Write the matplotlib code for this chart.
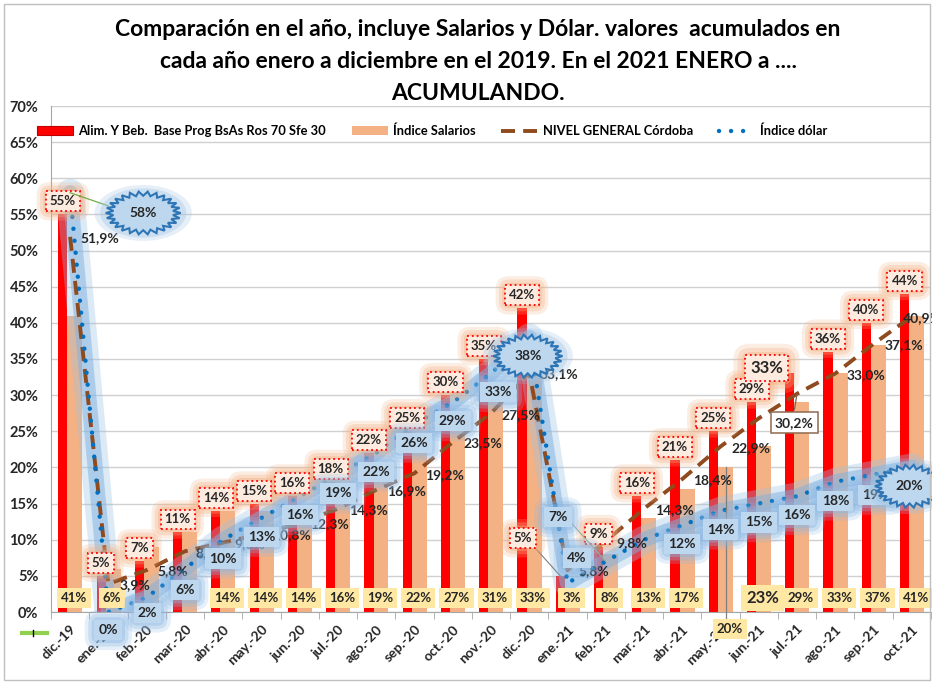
import numpy as np
import matplotlib
matplotlib.use('Agg')
import matplotlib.pyplot as plt
from matplotlib.patches import Polygon, Patch, Rectangle
from matplotlib.lines import Line2D
from matplotlib.transforms import ScaledTranslation

# datos
meses = ['dic.-19', 'ene.-20', 'feb.-20', 'mar.-20', 'abr.-20', 'may.-20', 'jun.-20',
         'jul.-20', 'ago.-20', 'sep.-20', 'oct.-20', 'nov.-20', 'dic.-20', 'ene.-21',
         'feb.-21', 'mar.-21', 'abr.-21', 'may.-21', 'jun.-21', 'jul.-21', 'ago.-21',
         'sep.-21', 'oct.-21']
alim = [55, 5, 7, 11, 14, 15, 16, 18, 22, 25, 30, 35, 42, 5, 9, 16, 21, 25, 29, 33, 36, 40, 44]
salarios = [41, 6, 9, 11, 14, 14, 14, 16, 19, 22, 27, 31, 33, 3, 8, 13, 17, 20, 23, 29, 33, 37, 41]
nivel = [51.9, 3.9, 5.8, 8.4, 9.6, 10.8, 12.3, 14.3, 16.9, 19.2, 23.5, 27.5, 33.1,
         5.8, 9.8, 14.3, 18.4, 22.9, 26.8, 30.2, 33.0, 37.1, 40.9]
dolar = [58, 0, 2, 6, 10, 13, 16, 19, 22, 26, 29, 33, 38, 4, 7, 10, 12, 14, 15, 16, 18, 19, 20]

ROJO = '#FF0000'
DURAZNO = '#F4B183'
MARRON = '#8F4A1E'
AZUL = '#0070C0'
TXT = '#262626'
FONT = 'Lato'

plt.rcParams['font.family'] = [FONT, 'DejaVu Sans']
plt.rcParams['font.weight'] = 'bold'

fig = plt.figure(figsize=(9.32, 6.84), dpi=100)
W, H = 932, 684
ax = fig.add_axes([51 / W, 1 - 612 / H, 880 / W, 506 / H])

x = np.arange(len(meses))

# barras
ax.bar(x + 0.125, salarios, width=0.39, color=DURAZNO, zorder=2)
ax.bar(x - 0.19, alim, width=0.24, color=ROJO, zorder=2.5)

# dolar: halo + puntos
ax.plot(x, dolar, color='#9DC3E6', lw=20, alpha=0.35, solid_capstyle='round',
        solid_joinstyle='round', zorder=3)
ax.plot(x, dolar, color='#7FB0E0', lw=11, alpha=0.5, solid_capstyle='round',
        solid_joinstyle='round', zorder=3)
ax.plot(x, nivel, color=MARRON, lw=2.8, dashes=(3.6, 2.1), zorder=4)
ax.plot(x, dolar, color=AZUL, lw=3.2, dashes=(0.01, 2.7), dash_capstyle='round', zorder=4.5)

ax.set_xlim(-0.5, len(meses) - 0.5)
ax.set_ylim(0, 70)
ax.set_yticks(np.arange(0, 71, 5))
ax.set_yticklabels([f'{v}%' for v in range(0, 71, 5)], fontsize=10.5, color=TXT)
ax.set_xticks(x)
ax.set_xticklabels(meses, rotation=45, ha='right', rotation_mode='anchor',
                   fontsize=10, color=TXT)
ax.set_xticks(np.arange(-0.5, len(meses), 1), minor=True)
ax.tick_params(axis='x', which='major', length=0, pad=8)
ax.tick_params(axis='x', which='minor', length=5, color='#A6A6A6')
ax.tick_params(axis='y', length=0, pad=9)
ax.grid(axis='y', color='#D0D0D0', lw=1, zorder=0.5)
ax.set_axisbelow(True)
for s in ['top', 'right']:
    ax.spines[s].set_visible(False)
ax.spines['left'].set_color('#A6A6A6')
ax.spines['bottom'].set_color('#A6A6A6')


def caja(xx, yy, s, fc, ec='none', ls='-', glow=None, fs=9.5, z=6):
    if glow:
        for pad, a in [(1.0, 0.22), (0.75, 0.3), (0.5, 0.4)]:
            ax.text(xx, yy, s, fontsize=fs, color='none', ha='center', va='center',
                    zorder=z, clip_on=False,
                    bbox=dict(boxstyle=f'round,pad={pad}', fc=glow, ec='none', alpha=a))
    ax.text(xx, yy, s, fontsize=fs, color=TXT, ha='center', va='center', zorder=z + 0.1,
            clip_on=False,
            bbox=dict(boxstyle='square,pad=0.3', fc=fc, ec=ec, ls=ls, lw=1.3))


def estrella(xx, yy, s, rx=27, ry=15.5, n=26, z=7):
    ang = np.linspace(0, 2 * np.pi, 2 * n, endpoint=False)
    r = np.where(np.arange(2 * n) % 2 == 0, 1.0, 0.8)
    tr = fig.dpi_scale_trans + ScaledTranslation(xx, yy, ax.transData)
    for k, a in [(1.3, 0.25), (1.15, 0.35)]:
        v = np.c_[rx * k * np.cos(ang), ry * k * np.sin(ang)] / 72
        ax.add_patch(Polygon(v, closed=True, fc='#9DC3E6', ec='none', alpha=a,
                             transform=tr, zorder=z, clip_on=False))
    v = np.c_[rx * r * np.cos(ang), ry * r * np.sin(ang)] / 72
    ax.add_patch(Polygon(v, closed=True, fc='#BDD7EE', ec='#2E75B6', lw=1.5,
                         transform=tr, zorder=z + 0.05, clip_on=False))
    ax.text(xx, yy, s, fontsize=10, color=TXT, ha='center', va='center', zorder=z + 0.1)


# etiquetas de alimentos (rojo)
esp_alim = {13: (11.83, 10.2), 19: (18.2, 33.7)}
for i, v in enumerate(alim):
    px, py = esp_alim.get(i, (i - 0.19, v + 1.8))
    caja(px, py, f'{v}%', '#FDEBDF', ec='#FF0000', ls=':', glow='#F4B183',
         fs=12 if i == 19 else 9.5)
ax.plot([11.83 + 0.3, 13 - 0.19], [9.0, alim[13]], color='#7F7F7F', lw=0.8, zorder=5.5)

# etiquetas de salarios (amarillo)
esp_sal = {17: (17.24, -2.3)}
for i, v in enumerate(salarios):
    if i in (2, 3):
        continue
    px, py = esp_sal.get(i, (i + 0.1, 2.0))
    caja(px, py, f'{v}%', '#FFE8A3', fs=12 if i == 18 else 9.5, z=5)
ax.plot([17.13, 17.13], [salarios[17], -1.3], color='#7F7F7F', lw=0.9, zorder=5,
        clip_on=False)

# etiquetas nivel general
for i, v in enumerate(nivel):
    txt = f'{v:.1f}%'.replace('.', ',')
    if i == 18:
        continue
    if i == 19:
        ax.plot([18.93, 19], [28.0, v], color='#7F6050', lw=0.9, zorder=5)
        ax.text(18.93, 26.2, txt, fontsize=10, color=TXT, ha='center', va='center',
                zorder=6, bbox=dict(boxstyle='square,pad=0.3', fc='white', ec='#8F6A50', lw=1.1))
        continue
    px = 21.76 if i == 22 else i + 0.28
    py = 40.6 if i == 22 else v - 0.2
    ax.text(px, py, txt, fontsize=10, color=TXT, ha='left', va='center', zorder=5.8,
            clip_on=False)

# etiquetas dolar (azul)
esp_dol = {1: (1.0, -2.5), 2: (2.02, -0.1), 3: (3.0, 3.0), 11: (11.18, 30.4),
           13: (13.25, 7.5), 14: (12.75, 13.1), 21: (21.07, 16.2)}
for i, v in enumerate(dolar):
    if i in (0, 12, 22, 15):
        continue
    px, py = esp_dol.get(i, (i, v - 2.6))
    caja(px, py, f'{v}%', '#BDD7EE', glow='#8DB8E4', fs=10, z=6.5)
ax.plot([13.05, 14], [12.6, dolar[14]], color='#8FAF8F', lw=0.8, zorder=6.4)

ax.plot([0, 0.99], [dolar[0], 56.2], color='#70AD47', lw=0.9, zorder=6.9)
estrella(1.91, 55.2, f'{dolar[0]}%')
estrella(11.96, 35.4, f'{dolar[12]}%', rx=25, ry=15.5)
estrella(21.94, 17.4, f'{dolar[22]}%', rx=25, ry=15.5)

# leyenda
hs = [Patch(fc=ROJO, ec='#C00000', lw=0.8),
      Patch(fc=DURAZNO, ec='none'),
      Line2D([], [], color=MARRON, lw=2.8, dashes=(3.6, 2.1)),
      Line2D([], [], color=AZUL, lw=3.2, dashes=(0.01, 2.7), dash_capstyle='round')]
ls = ['Alim. Y Beb.  Base Prog BsAs Ros 70 Sfe 30', 'Índice Salarios',
      'NIVEL GENERAL Córdoba', 'Índice dólar']
fig.legend(hs, ls, loc='center', bbox_to_anchor=(432 / W, 1 - 131 / H), ncol=4,
           frameon=False, fontsize=9.3, handlelength=2.8, handleheight=0.7,
           columnspacing=2.0, handletextpad=0.4)

# titulo
titulo = ['Comparación en el año, incluye Salarios y Dólar. valores  acumulados en',
          'cada año enero a diciembre en el 2019. En el 2021 ENERO a ....',
          'ACUMULANDO.']
for k, t in enumerate(titulo):
    fig.text(478 / W, 1 - (30 + 31.5 * k) / H, t, ha='center', va='center',
             fontsize=16.5, color='black', fontweight='bold')

# marco y marca verde suelta
fig.add_artist(Rectangle((4 / W, 4 / H), 926 / W, 676 / H, transform=fig.transFigure,
                         fill=False, ec='#BFBFBF', lw=1))
fig.add_artist(Line2D([22 / W, 47 / W], [1 - 633 / H] * 2, color='#92D050', lw=3))
fig.add_artist(Line2D([33 / W, 33 / W], [1 - 630 / H, 1 - 636 / H], color='black', lw=1))

fig.savefig('out.png', dpi=100)
